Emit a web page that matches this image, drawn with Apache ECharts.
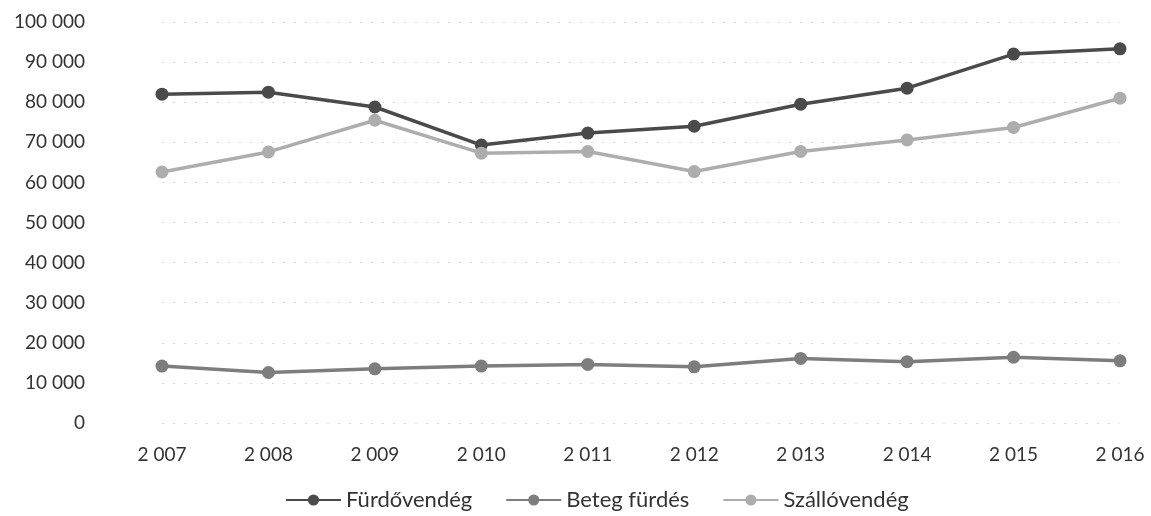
<!DOCTYPE html>
<html><head><meta charset="utf-8">
<script src="https://cdn.jsdelivr.net/npm/echarts@6/dist/echarts.min.js"></script>
<style>html,body{margin:0;padding:0;background:#fff}#c{width:1151px;height:516px}</style>
</head><body><div id="c"></div>
<script>
const categories = ['2 007','2 008','2 009','2 010','2 011','2 012','2 013','2 014','2 015','2 016'];
const furdovendeg = [82000, 82500, 78800, 69300, 72300, 74000, 79500, 83500, 92000, 93300];
const betegFurdes = [14200, 12600, 13500, 14200, 14600, 14000, 16100, 15300, 16400, 15500];
const szallovendeg = [62600, 67600, 75500, 67300, 67700, 62700, 67700, 70600, 73700, 81000];
const yTicks = [0, 10000, 100000];

const chart = echarts.init(document.getElementById('c'));
const font = 'Lato, "Open Sans", sans-serif';
function ser(name, data, color) {
  return {
    name, type: 'line', data, symbol: 'circle', symbolSize: 13,
    lineStyle: {color, width: 3.5}, itemStyle: {color},
    emphasis: {disabled: true}
  };
}
chart.setOption({
  animation: false,
  textStyle: {fontFamily: font},
  grid: {left: 162, right: 31, top: 22, bottom: 93},
  xAxis: {
    type: 'category', data: categories, boundaryGap: false,
    axisLine: {show: false}, axisTick: {show: false},
    axisLabel: {color: '#333', fontSize: 19, margin: 22, fontFamily: font}
  },
  yAxis: {
    type: 'value', min: yTicks[0], max: yTicks[2], interval: yTicks[1],
    axisLine: {show: false}, axisTick: {show: false},
    splitLine: {lineStyle: {color: '#d6d6d6', type: [2, 9], width: 1}},
    axisLabel: {
      color: '#333', fontSize: 19, margin: 77, fontFamily: font,
      formatter: v => String(v).replace(/\B(?=(\d{3})+(?!\d))/g, ' ')
    }
  },
  legend: {
    bottom: 0, left: 280, itemWidth: 55, itemHeight: 14, itemGap: 33,
    textStyle: {color: '#333', fontSize: 22, fontFamily: font},
    data: ['Fürdővendég', 'Beteg fürdés', 'Szállóvendég']
  },
  series: [
    ser('Fürdővendég', furdovendeg, '#4a4a4a'),
    ser('Beteg fürdés', betegFurdes, '#7d7d7d'),
    ser('Szállóvendég', szallovendeg, '#adadad')
  ]
});
</script></body></html>
